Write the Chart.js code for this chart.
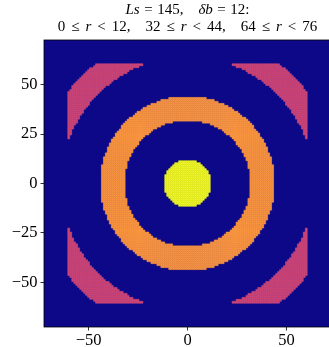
<!DOCTYPE html>
<html>
<head>
<meta charset="utf-8">
<script src="https://cdn.jsdelivr.net/npm/chart.js@4.4.1/dist/chart.umd.min.js"></script>
<style>
  html, body { margin: 0; padding: 0; background: #fff; overflow: hidden; width: 329px; height: 347px; }
  #wrap { position: absolute; left: 0; top: 0; width: 331px; height: 347px; }
</style>
</head>
<body>
<div id="wrap"><canvas id="c" width="331" height="347"></canvas></div>
<script>
// Box of Ls x Ls integer cells centred on the origin, radial bins of width δb
const boxSize = 145;
const binWidth = 12;
const binStarts = [0, 32, 64];
const binColors = ['#f0f921', '#f89540', '#cc4778'];
const backgroundColor = '#0d0887';
const xTicks = [-50, 0, 50];
const yTicks = [-50, -25, 0, 25, 50];

const half = (boxSize - 1) / 2;          // cells run from -half .. half
const edge = half - binWidth;            // cells inside the δb margin

// collect the cells that fall in each radial bin
const binCells = binStarts.map(() => []);
for (let y = -half; y <= half; y++) {
  for (let x = -half; x <= half; x++) {
    if (Math.abs(x) > edge || Math.abs(y) > edge) continue;
    const r = Math.hypot(x, y);
    binStarts.forEach((s, i) => {
      if (r >= s && r < s + binWidth) binCells[i].push({ x, y });
    });
  }
}

const MINUS = '\u2212';
const fmt = v => (v < 0 ? MINUS + Math.abs(v) : String(v));

// title runs: [text, italic?]; a number is a gap in em
const REL = 0.4, QUAD = 1;
const titleLine1 = [['Ls', true], 0.3, ['=', false], 0.3, [boxSize + ',', false], QUAD,
                    ['\u03b4b', true], 0.3, ['=', false], 0.3, [binWidth + ':', false]];
const titleLine2 = [];
binStarts.forEach((s, i) => {
  if (i > 0) titleLine2.push(QUAD);
  titleLine2.push([String(s), false], REL, ['\u2264', false], REL, ['r', true], REL, ['<', false], REL,
                  [(s + binWidth) + (i < binStarts.length - 1 ? ',' : ''), false]);
});

const TITLE_SIZE = 15;
const SERIF = '"Liberation Serif", "DejaVu Serif", serif';

const panelPlugin = {
  id: 'panel',
  beforeDatasetsDraw(chart) {
    const { ctx, chartArea: a } = chart;
    ctx.save();
    ctx.fillStyle = backgroundColor;
    ctx.fillRect(a.left, a.top, a.right - a.left, a.bottom - a.top);
    ctx.restore();
  },
  afterDraw(chart) {
    const { ctx, chartArea: a } = chart;
    ctx.save();
    ctx.strokeStyle = '#000';
    ctx.lineWidth = 0.8;
    ctx.strokeRect(a.left, a.top, a.right - a.left, a.bottom - a.top);

    const cx = (a.left + a.right) / 2;
    const fontFor = it => (it ? 'italic ' : '') + TITLE_SIZE + 'px ' + SERIF;
    const drawLine = (runs, baseline) => {
      let total = 0;
      runs.forEach(r => {
        if (typeof r === 'number') { total += r * TITLE_SIZE; return; }
        ctx.font = fontFor(r[1]);
        total += ctx.measureText(r[0]).width;
      });
      let x = cx - total / 2;
      ctx.fillStyle = '#000';
      ctx.textBaseline = 'alphabetic';
      ctx.textAlign = 'left';
      runs.forEach(r => {
        if (typeof r === 'number') { x += r * TITLE_SIZE; return; }
        ctx.font = fontFor(r[1]);
        ctx.fillText(r[0], x, baseline);
        x += ctx.measureText(r[0]).width;
      });
    };
    drawLine(titleLine1, 14);
    drawLine(titleLine2, 31);
    ctx.restore();
  }
};

const cellRadius = ctx => {
  const sx = ctx.chart.scales.x;
  const px = Math.abs(sx.getPixelForValue(1) - sx.getPixelForValue(0));
  return px / (2 * Math.SQRT1_2);
};

const axisCommon = {
  type: 'linear',
  min: -half - 0.5,
  max: half + 0.5,
  border: { display: false },
  grid: { drawOnChartArea: false, drawTicks: true, tickLength: 3.5, tickColor: '#000', tickWidth: 0.8 },
  ticks: { color: '#000', font: { family: SERIF, size: 16.5 }, padding: 3, callback: v => fmt(v), autoSkip: false, maxRotation: 0 }
};

new Chart(document.getElementById('c'), {
  type: 'scatter',
  data: {
    datasets: binCells.map((cells, i) => ({
      label: binStarts[i] + '-' + (binStarts[i] + binWidth),
      data: cells,
      pointStyle: 'rect',
      pointRadius: cellRadius,
      pointHoverRadius: cellRadius,
      backgroundColor: binColors[i],
      borderColor: binColors[i],
      borderWidth: 0.5
    }))
  },
  options: {
    responsive: false,
    animation: false,
    events: [],
    layout: { padding: { top: 40, left: 0, right: 0, bottom: 0 } },
    plugins: { legend: { display: false }, tooltip: { enabled: false }, title: { display: false } },
    scales: {
      x: Object.assign({}, axisCommon, {
        ticks: Object.assign({}, axisCommon.ticks, { padding: 0 }),
        afterBuildTicks: s => { s.ticks = xTicks.map(v => ({ value: v })); },
        afterFit: s => { s.height = 20; }
      }),
      y: Object.assign({}, axisCommon, {
        afterBuildTicks: s => { s.ticks = yTicks.map(v => ({ value: v })); },
        afterFit: s => { s.width = 44; }
      })
    }
  },
  plugins: [panelPlugin]
});
</script>
</body>
</html>
